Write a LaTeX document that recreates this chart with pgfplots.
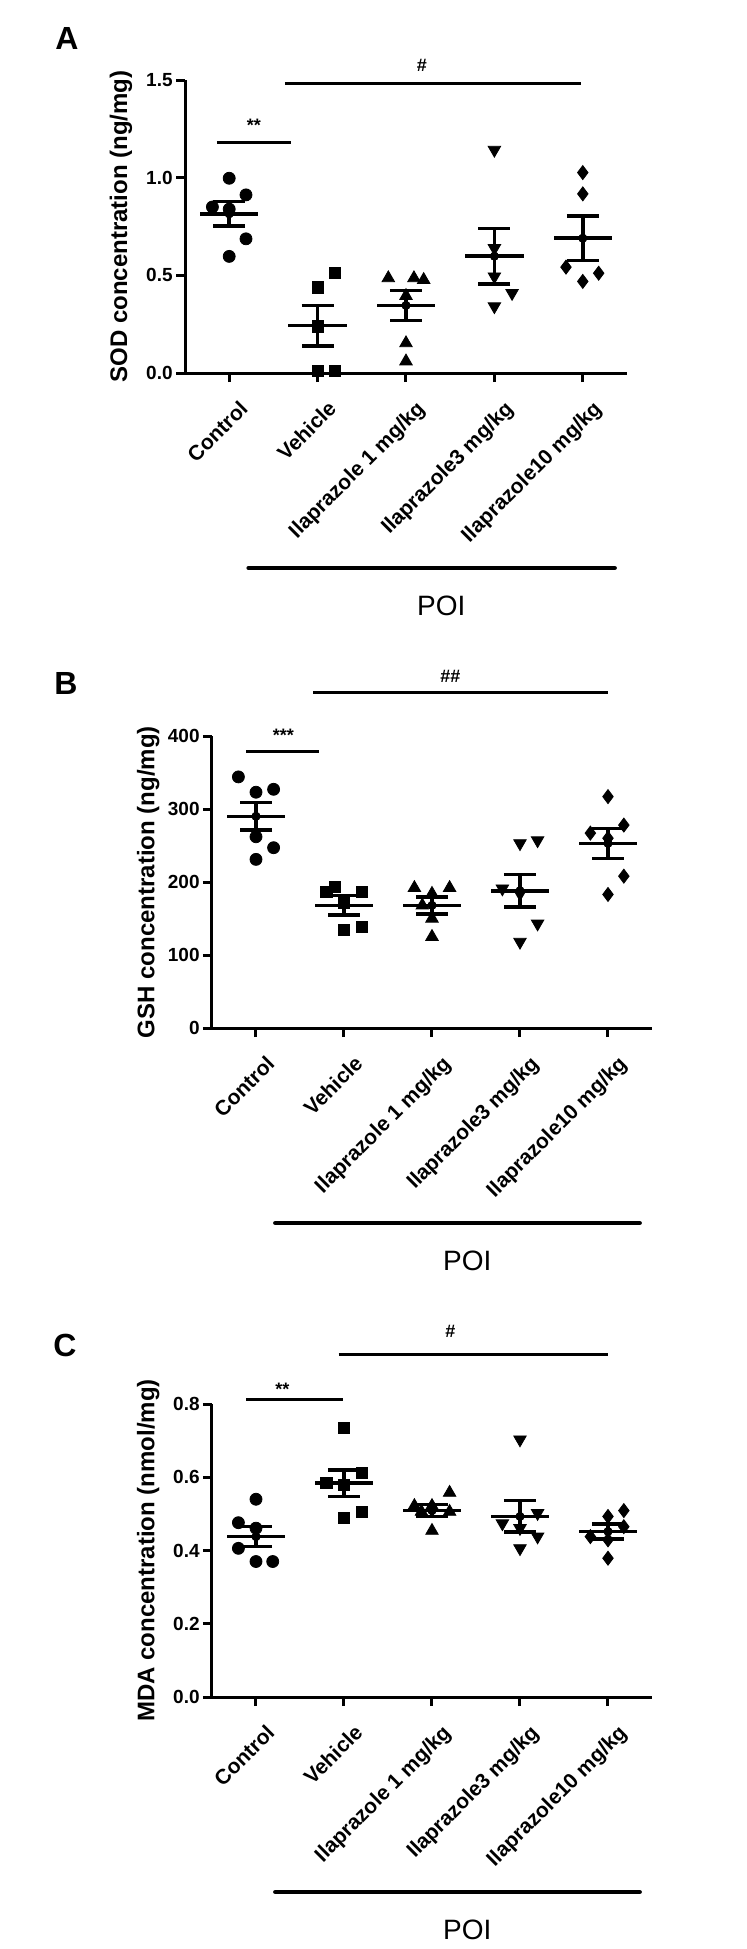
\documentclass[border=0pt]{standalone}
\usepackage{fontspec}
\setmainfont{Liberation Sans}
\usepackage{pgfplots}
\pgfplotsset{compat=1.18}

\pgfplotsset{
  poi/.style={
    scale only axis, clip=false,
    xmin=-0.5, xmax=4.5,
    axis x line*=bottom, axis y line*=left,
    axis line style={-, line width=1.5pt, black},
    xtick={0,1,2,3,4},
    xticklabels={Control, Vehicle, Ilaprazole 1 mg/kg, Ilaprazole3 mg/kg, Ilaprazole10 mg/kg},
    tick align=outside, major tick length=4.5pt,
    tick style={line width=1.5pt, black},
    xticklabel style={font=\fontsize{10.5}{12}\selectfont\bfseries, xshift=4.5pt, yshift=-8.5pt, rotate=45, anchor=north east, inner sep=0pt},
    yticklabel style={font=\fontsize{9.5}{11}\selectfont\bfseries, inner sep=1.5pt},
    every axis y label/.style={at={(axis description cs:-0.145,0.5)}, rotate=90, anchor=center, font=\fontsize{12}{14}\selectfont\bfseries},
  },
  pts/.style={only marks, mark options={fill=black, draw=black}},
  meanl/.style={only marks, mark=none, forget plot, error bars/.cd, x dir=both, x explicit, error mark=none, error bar style={draw=black, line width=1.75pt}},
  sem/.style={only marks, mark=none, forget plot, error bars/.cd, y dir=both, y explicit, error bar style={draw=black, line width=1.75pt}, error mark options={rotate=90, mark size=8pt, line width=1.75pt, draw=black}},
}
\tikzset{
  sig/.style={line width=1.5pt, black},
  sigtxt/.style={font=\fontsize{9}{10}\selectfont\bfseries},
}

\begin{document}
\begin{tikzpicture}
\useasboundingbox (0,0) rectangle (373.5pt,-974.5pt);

% ---------------- Panel A ----------------
\node[font=\fontsize{16}{18}\selectfont\bfseries] at (33.5pt,-19pt) {A};
\begin{axis}[poi, at={(92.5pt,-186.5pt)}, anchor=south west, width=221pt, height=146.5pt,
  ymin=0, ymax=1.5, ytick={0,0.5,1,1.5}, yticklabels={0.0,0.5,1.0,1.5},
  ylabel={SOD concentration (ng/mg)}]
\addplot[pts, mark=*, mark size=3.0pt] coordinates {(0,0.997) (0.19,0.912) (-0.19,0.850) (0,0.839) (0.19,0.687) (0,0.597)};
\addplot[pts, mark=square*, mark size=2.8pt] coordinates {(1,0.438) (1.2,0.511) (1,0.239) (1,0.01) (1.2,0.01)};
\addplot[pts, mark=triangle*, mark size=3.6pt] coordinates {(1.8,0.486) (2.09,0.486) (2.2,0.477) (2,0.395) (2,0.153) (2,0.06)};
\addplot[pts, mark=triangle*, mark size=3.6pt, mark options={rotate=180}] coordinates {(3,1.142) (3,0.639) (3,0.494) (3.2,0.409) (3,0.341)};
\addplot[pts, mark=diamond*, mark size=3.5pt] coordinates {(4,1.026) (4,0.917) (3.81,0.542) (4.18,0.511) (4,0.469)};
\addplot[meanl] coordinates {(0,0.815) +- (0.33,0) (1,0.242) +- (0.33,0) (2,0.346) +- (0.33,0) (3,0.598) +- (0.33,0) (4,0.69) +- (0.33,0)};
\addplot[sem] coordinates {(0,0.815) +- (0,0.063) (1,0.242) +- (0,0.103) (2,0.346) +- (0,0.077) (3,0.598) +- (0,0.142) (4,0.69) +- (0,0.115)};
\draw[sig] (axis cs:-0.14,1.181) -- (axis cs:0.70,1.181);
\node[sigtxt] at (axis cs:0.28,1.268) {**};
\draw[sig] (axis cs:0.63,1.483) -- (axis cs:3.98,1.483);
\node[sigtxt] at (axis cs:2.18,1.576) {\#};
\draw[line width=2.25pt, line cap=round] ([yshift=-97.5pt]axis cs:0.22,0) -- ([yshift=-97.5pt]axis cs:4.36,0);
\node[font=\fontsize{14}{16}\selectfont] at ([yshift=-116.5pt]axis cs:2.4,0) {POI};
\end{axis}

% ---------------- Panel B ----------------
\node[font=\fontsize{16}{18}\selectfont\bfseries] at (33pt,-341.5pt) {B};
\begin{axis}[poi, at={(106pt,-514pt)}, anchor=south west, width=220pt, height=146pt,
  ymin=0, ymax=400, ytick={0,100,200,300,400}, yticklabels={0,100,200,300,400},
  ylabel={GSH concentration (ng/mg)}]
\addplot[pts, mark=*, mark size=3.0pt] coordinates {(-0.2,344) (0,323) (0.2,327) (0,262) (0.2,247) (0,231)};
\addplot[pts, mark=square*, mark size=2.8pt] coordinates {(0.8,187) (0.9,193) (1.2,187) (1,172) (1,134) (1.2,138)};
\addplot[pts, mark=triangle*, mark size=3.6pt] coordinates {(1.8,192) (2.2,192) (2,184) (1.89,168) (2,150) (2,125)};
\addplot[pts, mark=triangle*, mark size=3.6pt, mark options={rotate=180}] coordinates {(3,253) (3.2,257) (2.8,191) (3,184) (3.2,143) (3,118)};
\addplot[pts, mark=diamond*, mark size=3.5pt] coordinates {(4,317) (4.18,278) (3.8,267) (4,260) (4.18,208) (4,183)};
\addplot[meanl] coordinates {(0,290) +- (0.33,0) (1,168) +- (0.33,0) (2,168) +- (0.33,0) (3,188) +- (0.33,0) (4,253) +- (0.33,0)};
\addplot[sem] coordinates {(0,290) +- (0,19) (1,168) +- (0,13.5) (2,168) +- (0,11.5) (3,188) +- (0,22.5) (4,253) +- (0,20.5)};
\draw[sig] (axis cs:-0.11,379) -- (axis cs:0.72,379);
\node[sigtxt] at (axis cs:0.31,401) {***};
\draw[sig] (axis cs:0.65,459) -- (axis cs:4.0,459);
\node[sigtxt] at (axis cs:2.21,482) {\#\#};
\draw[line width=2.25pt, line cap=round] ([yshift=-97.5pt]axis cs:0.22,0) -- ([yshift=-97.5pt]axis cs:4.36,0);
\node[font=\fontsize{14}{16}\selectfont] at ([yshift=-116.5pt]axis cs:2.4,0) {POI};
\end{axis}

% ---------------- Panel C ----------------
\node[font=\fontsize{16}{18}\selectfont\bfseries] at (32.5pt,-672.5pt) {C};
\begin{axis}[poi, at={(106pt,-848.5pt)}, anchor=south west, width=220pt, height=146.5pt,
  ymin=0, ymax=0.8, ytick={0,0.2,0.4,0.6,0.8}, yticklabels={0.0,0.2,0.4,0.6,0.8},
  ylabel={MDA concentration (nmol/mg)}]
\addplot[pts, mark=*, mark size=3.0pt] coordinates {(0,0.540) (-0.2,0.476) (0,0.461) (-0.2,0.406) (0,0.370) (0.19,0.370)};
\addplot[pts, mark=square*, mark size=2.8pt] coordinates {(1,0.734) (1.2,0.613) (0.8,0.584) (1,0.579) (1.2,0.506) (1,0.488)};
\addplot[pts, mark=triangle*, mark size=3.6pt] coordinates {(2.2,0.558) (1.8,0.522) (2,0.522) (1.88,0.506) (2.2,0.506) (2,0.454)};
\addplot[pts, mark=triangle*, mark size=3.6pt, mark options={rotate=180}] coordinates {(3,0.703) (3.2,0.502) (2.8,0.474) (3,0.461) (3.2,0.438) (3,0.406)};
\addplot[pts, mark=diamond*, mark size=3.5pt] coordinates {(4.18,0.509) (4,0.493) (3.8,0.438) (4.18,0.465) (4,0.429) (4,0.379)};
\addplot[meanl] coordinates {(0,0.438) +- (0.33,0) (1,0.584) +- (0.33,0) (2,0.509) +- (0.33,0) (3,0.493) +- (0.33,0) (4,0.452) +- (0.33,0)};
\addplot[sem] coordinates {(0,0.438) +- (0,0.027) (1,0.584) +- (0,0.036) (2,0.509) +- (0,0.016) (3,0.493) +- (0,0.043) (4,0.452) +- (0,0.020)};
\draw[sig] (axis cs:-0.11,0.812) -- (axis cs:0.99,0.812);
\node[sigtxt] at (axis cs:0.30,0.840) {**};
\draw[sig] (axis cs:0.94,0.935) -- (axis cs:4.0,0.935);
\node[sigtxt] at (axis cs:2.21,0.999) {\#};
\draw[line width=2.25pt, line cap=round] ([yshift=-97.5pt]axis cs:0.22,0) -- ([yshift=-97.5pt]axis cs:4.36,0);
\node[font=\fontsize{14}{16}\selectfont] at ([yshift=-116.5pt]axis cs:2.4,0) {POI};
\end{axis}
\end{tikzpicture}
\end{document}
